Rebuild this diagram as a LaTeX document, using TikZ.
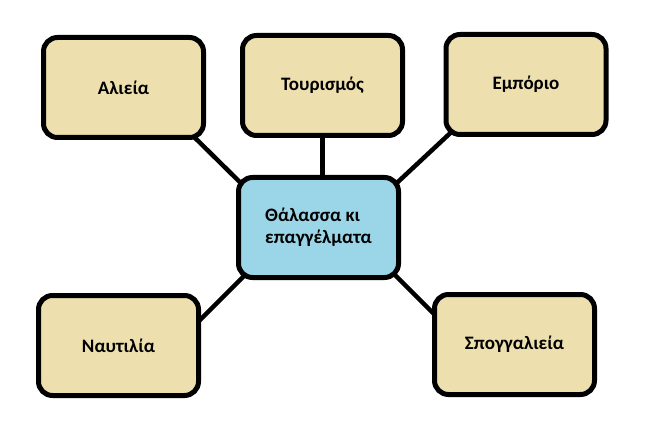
\documentclass[tikz,border=0pt]{standalone}
\usepackage{fontspec}
\setmainfont{Carlito}
\usetikzlibrary{calc,backgrounds}
\definecolor{tanfill}{RGB}{238,224,174}
\definecolor{bluefill}{RGB}{155,214,232}
\tikzset{
  box/.style={draw=black, line width=5pt, rounded corners=14pt, fill=tanfill,
    minimum width=160pt, minimum height=100pt, inner sep=0pt,
    font=\fontsize{19}{22}\selectfont\bfseries, align=center},
  hub/.style={box, fill=bluefill, align=left},
  link/.style={draw=black, line width=4.5pt}
}
\begin{document}
\begin{tikzpicture}[x=1pt,y=-1pt]
\useasboundingbox (0,0) rectangle (658,430);
\node[box] (a) at (123.5,87.5) {Αλιεία};
\node[box] (t) at (322.5,85.5) {Τουρισμός};
\node[box] (e) at (526,84.5) {Εμπόριο};
\node[hub] (c) at (318.5,227.5) {Θάλασσα κι\\επαγγέλματα};
\node[box] (n) at (118.5,345.5) {\raisebox{-5pt}{Ναυτιλία}};
\node[box] (s) at (514.5,344.5) {Σπογγαλιεία};
\begin{scope}[on background layer]
\draw[link] ($(a.center)+(61.5,40.5)$) -- ($(c.center)+(-63.5,-30.5)$);
\draw[link] ($(t.center)+(0,40)$) -- ($(c.center)+(4,-40)$);
\draw[link] ($(e.center)+(-66,39.5)$) -- ($(c.center)+(66.5,-33.5)$);
\draw[link] ($(c.center)+(66.5,37.5)$) -- ($(s.center)+(-69.5,-19.5)$);
\draw[link] ($(n.center)+(73.5,-17.5)$) -- ($(c.center)+(-66.5,40.5)$);
\end{scope}
\end{tikzpicture}
\end{document}
